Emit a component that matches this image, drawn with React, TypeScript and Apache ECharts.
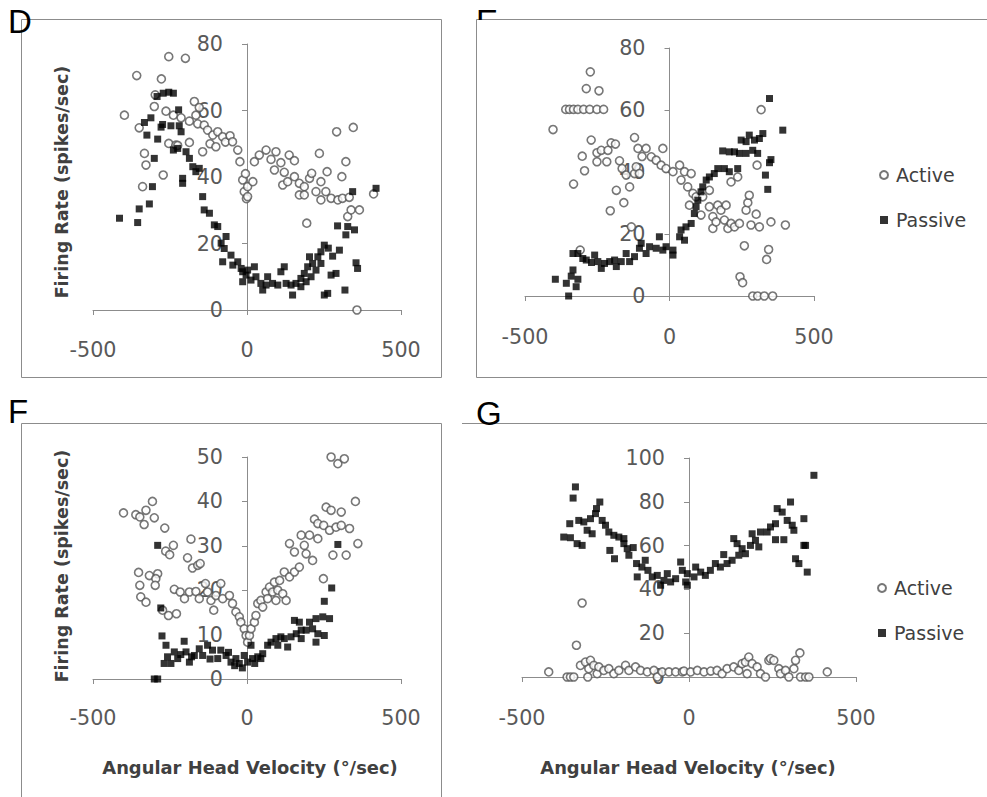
import React, { useEffect, useRef } from "react";
import * as echarts from "echarts";

// ---- Data (x = angular head velocity °/sec, y = firing rate spikes/sec) ----
const xTicks = [-500, 0, 500];

const dActive: number[][] = [
  [-398, 58.6], [-358, 70.5], [-350, 54.8], [-333, 47.1], [-328, 43.6], [-339, 37.1], [-301, 61.2], [-298, 64.7],
  [-278, 69.5], [-272, 40.6], [-263, 59.8], [-254, 76.2], [-254, 50.1], [-239, 58.6], [-231, 49.6], [-225, 49.5],
  [-214, 57.8], [-200, 75.7], [-187, 56.8], [-187, 50.4], [-171, 62.7], [-166, 58.6], [-160, 56], [-155, 60.9],
  [-144, 47.6], [-139, 55.6], [-128, 54.1], [-120, 50], [-111, 52.6], [-101, 49.1], [-95, 53.6], [-79, 52.1],
  [-70, 50.5], [-55, 52.4], [-47, 50.6], [-30, 48.1], [-23, 44.6], [-14, 39.1], [-9, 35.6], [-5, 41], [-2, 33.5],
  [2, 37.1], [2, 34.1], [19, 38.6], [24, 44.6], [40, 46.6], [62, 48.1], [78, 45.3], [89, 42.1], [94, 47.6],
  [110, 44.3], [116, 37.6], [121, 41.4], [132, 38.6], [137, 46.6], [154, 44.9], [154, 40.1], [170, 38.1],
  [170, 34.6], [186, 37.1], [186, 34.6], [194, 26.1], [203, 39.6], [210, 41.1], [224, 35.6], [235, 47.1],
  [240, 38.6], [240, 33.1], [256, 35.6], [260, 41.6], [273, 33.6], [291, 53.6], [295, 33.1], [308, 40.1],
  [310, 33.6], [321, 44.6], [327, 28.1], [332, 33.9], [338, 30.1], [345, 54.9], [357, 0], [365, 30.1], [411, 34.9],
];
const dPassive: number[][] = [
  [-414, 27.6], [-355, 26.3], [-350, 30.4], [-317, 31.9], [-307, 37.1], [-301, 45.6], [-333, 56.4], [-325, 52.6],
  [-312, 57.8], [-290, 51.4], [-292, 64.2], [-279, 55], [-272, 65.2], [-254, 65.5], [-239, 65.2], [-274, 55.8],
  [-247, 55.4], [-220, 55.4], [-214, 53.6], [-222, 60.2], [-239, 48.1], [-225, 48.6], [-198, 47.6], [-209, 39.6],
  [-209, 38.1], [-187, 45.6], [-176, 43.1], [-155, 42.6], [-166, 41.6], [-144, 34.1], [-139, 30.1], [-122, 29.1],
  [-106, 25.6], [-95, 25.1], [-84, 20.1], [-68, 22.1], [-74, 18.5], [-52, 16.5], [-79, 14.5], [-46, 13.5],
  [-30, 14.5], [-19, 12.5], [-14, 11.5], [-14, 8.5], [-3, 10.5], [2, 12], [13, 9], [24, 13], [29, 10], [45, 8],
  [51, 6], [62, 7.5], [67, 10], [83, 8], [100, 7.5], [110, 11.5], [121, 13], [127, 8], [143, 7.5], [148, 4.5],
  [159, 8], [175, 9.5], [175, 7], [186, 11], [192, 8.5], [197, 13], [203, 16], [208, 10], [213, 14], [224, 12],
  [230, 16], [240, 17.5], [240, 14], [251, 19.5], [251, 4.5], [262, 5], [264, 18.6], [273, 10.5], [278, 16.2],
  [289, 11], [294, 25.3], [300, 18], [318, 6], [321, 22.6], [327, 25.1], [343, 35.6], [349, 24.1], [354, 14.2],
  [359, 12.5], [419, 36.6],
];

const eActive: number[][] = [
  [-403, 53.7], [-359, 60.2], [-346, 60.2], [-332, 60.2], [-317, 60.2], [-297, 60.2], [-276, 60.2], [-251, 60.2],
  [-228, 60.2], [-274, 72.3], [-288, 66.9], [-244, 66.2], [-332, 36.1], [-309, 14.8], [-302, 45.1], [-294, 40.4],
  [-271, 50.3], [-251, 46.2], [-251, 43.3], [-236, 47], [-217, 43.3], [-213, 47], [-205, 27.5], [-202, 49.4],
  [-187, 49], [-184, 34.1], [-173, 43.6], [-164, 41.1], [-158, 30.1], [-150, 39], [-138, 35.2], [-132, 22.3],
  [-121, 51.1], [-121, 39.5], [-115, 41.7], [-109, 47.6], [-104, 39.5], [-95, 45], [-81, 47.6], [-63, 44.9],
  [-46, 43.8], [-29, 42.2], [-23, 47.6], [-12, 41.1], [12, 40.1], [35, 42.2], [40, 37.4], [52, 40.1], [63, 35.2],
  [69, 29.3], [75, 39.5], [81, 33.1], [92, 32], [109, 26.1], [115, 32], [138, 34.1], [138, 28.8], [150, 25.6],
  [150, 21.8], [161, 23.9], [167, 29.3], [178, 27.7], [190, 24.5], [196, 29.3], [202, 21.8], [213, 36.8],
  [213, 23.4], [225, 22.3], [236, 38.4], [242, 23.4], [244, 6.2], [253, 4.3], [259, 16.2], [265, 27.7],
  [271, 30.1], [276, 32.5], [282, 22.9], [288, 0], [300, 26.4], [303, 42.2], [305, 0], [311, 22.3], [317, 60.1],
  [328, 0], [336, 11.8], [343, 15], [351, 23.9], [357, 0], [401, 22.9],
];
const ePassive: number[][] = [
  [-395, 5.4], [-357, 4.1], [-349, 0], [-340, 6.4], [-334, 8.4], [-334, 13.7], [-323, 3], [-317, 5.4],
  [-317, 13.7], [-300, 12.1], [-288, 11.6], [-270, 10.8], [-259, 13.2], [-248, 11.1], [-236, 8.9], [-225, 10.5],
  [-207, 11.1], [-190, 11.6], [-184, 9.5], [-167, 11.1], [-150, 13.7], [-138, 11.1], [-121, 12.7], [-104, 15.4],
  [-98, 17], [-81, 13.7], [-69, 15.9], [-46, 15.4], [-35, 19.1], [-23, 14.8], [-12, 15.9], [12, 14.8], [12, 13.2],
  [35, 19.1], [40, 21.3], [52, 18], [57, 22.3], [75, 23.4], [86, 26.6], [92, 28.8], [98, 30.9], [109, 33.6],
  [115, 35.2], [127, 37.4], [138, 38.4], [155, 39.5], [167, 41.1], [184, 46.8], [190, 41.1], [207, 46.5],
  [207, 40.1], [225, 46.5], [236, 41.1], [242, 46], [248, 50.3], [265, 49.8], [265, 46], [276, 51.9], [288, 47],
  [294, 50.3], [305, 46], [311, 50.8], [323, 52.4], [332, 39], [340, 34.4], [346, 43], [346, 63.7], [351, 44],
  [392, 53.5],
];

const fActive: number[][] = [
  [-401, 37.4], [-361, 37], [-348, 36.5], [-334, 34.8], [-328, 38], [-307, 40], [-301, 36.3], [-267, 34],
  [-264, 28.8], [-251, 28], [-239, 30.1], [-193, 27.3], [-182, 31.5], [-177, 25], [-160, 25.6], [-152, 26],
  [-352, 24], [-348, 21.1], [-317, 23.3], [-290, 23.7], [-296, 22.6], [-298, 21.1], [-345, 18.5], [-328, 17.3],
  [-274, 15.5], [-255, 14.3], [-229, 14.7], [-236, 20.2], [-217, 19.6], [-203, 18.1], [-187, 19.6], [-166, 19.7],
  [-155, 18.1], [-135, 21.5], [-128, 19.6], [-117, 17.7], [-108, 15.5], [-101, 18.8], [-85, 21.5], [-79, 18.1],
  [-57, 18.8], [-47, 17], [-36, 15.1], [-25, 14], [-20, 12.8], [-9, 11.3], [-3, 9.8], [2, 8.3], [8, 9.8],
  [13, 11.3], [24, 12.8], [29, 14.3], [35, 17], [45, 17.7], [51, 16.2], [62, 19.6], [67, 18.1], [73, 20.7],
  [83, 19.6], [89, 21.8], [94, 17.7], [100, 20], [106, 22.2], [116, 19.2], [121, 24.1], [127, 17.7], [138, 23],
  [138, 30.5], [154, 24.1], [154, 28.6], [170, 25.2], [176, 32.4], [186, 30.1], [192, 28.2], [203, 32.4],
  [213, 26.7], [219, 36], [230, 35], [230, 31.6], [248, 22.6], [249, 34.6], [257, 38.7], [268, 33.5], [273, 38],
  [273, 50], [279, 27.9], [289, 34.2], [295, 48.5], [306, 37.6], [306, 34.6], [316, 49.6], [322, 27.9],
  [333, 33.9], [352, 40], [360, 30.5],
];
const fPassive: number[][] = [
  [-301, 0], [-290, 0], [-290, 30.1], [-280, 16], [-276, 9.7], [-269, 3.5], [-263, 7.6], [-258, 5], [-247, 3.5],
  [-236, 6.1], [-225, 4.6], [-215, 5.5], [-204, 8.5], [-198, 6.1], [-187, 3.8], [-180, 5], [-171, 5.3],
  [-155, 6.8], [-144, 5.3], [-128, 7.6], [-120, 4.5], [-112, 6.5], [-95, 4.6], [-85, 6.5], [-68, 5.3], [-60, 6],
  [-52, 3.8], [-40, 3], [-36, 4.6], [-25, 3.5], [-15, 2.5], [-9, 5.3], [2, 3.8], [13, 7.6], [18, 4.6], [25, 3.5],
  [35, 5], [45, 4.6], [51, 5.7], [67, 7.6], [78, 8.3], [94, 9.1], [100, 7.6], [110, 9.5], [121, 9.1], [132, 7.2],
  [143, 9.5], [154, 13.2], [160, 10.2], [170, 12.8], [176, 11], [176, 9.1], [192, 11], [203, 12.8], [213, 11.3],
  [224, 13.6], [224, 8.3], [230, 10.2], [246, 14], [251, 9.8], [251, 17.5], [268, 13.6], [275, 20.5], [295, 30.3],
];

const gActive: number[][] = [
  [-420, 2.3], [-365, 0], [-355, 0], [-345, 0], [-337, 14.5], [-325, 5.3], [-320, 33.8], [-310, 6.8], [-303, 0],
  [-300, 3.8], [-295, 7.6], [-285, 5.3], [-275, 1.5], [-270, 4.6], [-255, 3], [-240, 3.8], [-225, 1.5], [-210, 3],
  [-190, 5.3], [-180, 3], [-160, 4.6], [-145, 3], [-125, 2.3], [-105, 3], [-95, 0], [-80, 2.3], [-60, 2.3],
  [-40, 2.3], [-20, 2.3], [-15, 2.7], [5, 2.3], [25, 3], [45, 2.3], [65, 2.7], [84, 3], [99, 1.5], [114, 3.8],
  [134, 4.6], [149, 3], [159, 6.1], [169, 6.8], [174, 1.5], [179, 9.1], [189, 6.1], [204, 4.6], [214, 1.5],
  [229, 0], [239, 7.6], [244, 8.4], [254, 7.6], [269, 3.8], [274, 1.5], [289, 3], [299, 0], [314, 3.8],
  [319, 7.6], [332, 11], [334, 0], [349, 0], [359, 0], [414, 2.3],
];
const gPassive: number[][] = [
  [-375, 63.9], [-357, 70], [-355, 63.6], [-347, 81.7], [-340, 86.8], [-335, 60.9], [-330, 71.5], [-320, 60.1],
  [-315, 70.8], [-305, 67], [-295, 72.3], [-290, 65.4], [-280, 74.6], [-277, 76.9], [-267, 79.9], [-260, 71.5],
  [-250, 69.3], [-240, 66.2], [-237, 57.8], [-225, 64.7], [-223, 54], [-210, 63.9], [-195, 63.2], [-195, 60.9],
  [-185, 58.6], [-180, 55.6], [-167, 59.1], [-157, 51.8], [-155, 45.7], [-141, 50.2], [-131, 53.3], [-123, 48.7],
  [-110, 45.7], [-95, 46.4], [-85, 41.9], [-75, 44.1], [-65, 47.2], [-55, 43.4], [-40, 44.9], [-25, 52.5],
  [-20, 48.7], [-10, 43.4], [-5, 47.2], [-5, 41.9], [15, 45.7], [20, 50.2], [35, 47.9], [49, 46.4], [64, 48.7],
  [79, 51.8], [94, 50.2], [104, 55.9], [114, 51.8], [129, 53.3], [134, 63.2], [144, 60.9], [149, 55.6],
  [159, 58.6], [169, 56.3], [184, 60.1], [189, 65.4], [199, 62.4], [209, 59.4], [214, 66.2], [234, 66.2],
  [244, 68.5], [259, 70], [259, 62.7], [264, 76.9], [279, 75.3], [284, 62.7], [294, 71.5], [304, 79.9],
  [309, 69.3], [314, 67], [319, 54], [329, 51.8], [344, 72.3], [344, 60.1], [349, 60.1], [354, 47.9], [374, 92.1],
];

const panelLetters = ["D", "E", "F", "G"];
const yMax = [80, 80, 50, 100];
const yStep = [20, 20, 10, 20];
const seriesNames = ["Active", "Passive"];
const yTitle = "Firing Rate (spikes/sec)";
const xTitle = "Angular Head Velocity (°/sec)";

const FONT = '"DejaVu Sans", Verdana, sans-serif';
const AXIS = "#8c8c8c";
const LABEL = "#595959";
const TITLE = "#404040";

export default function App() {
  const ref = useRef<HTMLDivElement>(null);
  useEffect(() => {
    if (!ref.current) return;
    const chart = echarts.init(ref.current, undefined, { renderer: "svg" });
    const grids = [
      { left: 93, top: 44, width: 308, height: 266 },
      { left: 525, top: 48, width: 289, height: 248 },
      { left: 93, top: 457, width: 308, height: 222 },
      { left: 522, top: 458, width: 334, height: 219 },
    ];
    const xMargins = [29, 30, 28, 30];
    const data = [
      [dActive, dPassive],
      [eActive, ePassive],
      [fActive, fPassive],
      [gActive, gPassive],
    ];
    const series: any[] = [];
    data.forEach((pair, i) => {
      series.push({
        name: seriesNames[0],
        type: "scatter",
        xAxisIndex: i,
        yAxisIndex: i,
        data: pair[0],
        symbol: "circle",
        symbolSize: 8,
        itemStyle: { color: "#ffffff", borderColor: "#555555", borderWidth: 1.6 },
        z: 3,
      });
      series.push({
        name: seriesNames[1],
        type: "scatter",
        xAxisIndex: i,
        yAxisIndex: i,
        data: pair[1],
        symbol: "rect",
        symbolSize: 7,
        itemStyle: { color: "#000000" },
        z: 4,
      });
    });
    const legendCommon = {
      data: seriesNames,
      orient: "vertical",
      itemWidth: 8,
      itemHeight: 8,
      itemGap: 25,
      selectedMode: false,
      textStyle: { fontSize: 19, color: TITLE, fontFamily: FONT, lineHeight: 20, padding: [0, 0, 0, 3] },
    };
    const option: any = {
      animation: false,
      backgroundColor: "#ffffff",
      grid: grids.map((g) => ({ ...g, containLabel: false })),
      xAxis: grids.map((_, i) => ({
        type: "value",
        gridIndex: i,
        min: xTicks[0],
        max: xTicks[xTicks.length - 1],
        interval: 500,
        axisLine: { show: true, onZero: true, lineStyle: { color: AXIS, width: 1 } },
        axisTick: { show: true, inside: false, length: 5, lineStyle: { color: AXIS } },
        axisLabel: { color: LABEL, fontSize: 20.7, fontFamily: FONT, margin: xMargins[i] },
        splitLine: { show: false },
      })),
      yAxis: grids.map((g, i) => ({
        type: "value",
        gridIndex: i,
        position: "left",
        offset: -(g.width / 2),
        min: 0,
        max: yMax[i],
        interval: yStep[i],
        axisLine: { show: true, onZero: false, lineStyle: { color: AXIS, width: 1 } },
        axisTick: { show: true, inside: false, length: 5, lineStyle: { color: AXIS } },
        axisLabel: { color: LABEL, fontSize: 20.7, fontFamily: FONT, margin: 24 },
        splitLine: { show: false },
      })),
      legend: [
        { ...legendCommon, left: 874, top: 160 },
        { ...legendCommon, left: 872, top: 573 },
      ],
      series,
      graphic: [
        // frames
        { type: "rect", shape: { x: 21.5, y: 19.5, width: 420, height: 358 }, style: { fill: "none", stroke: AXIS, lineWidth: 1 } },
        { type: "rect", shape: { x: 476.5, y: 19.5, width: 530, height: 358 }, style: { fill: "none", stroke: AXIS, lineWidth: 1 } },
        { type: "rect", shape: { x: 21.5, y: 423.5, width: 420, height: 420 }, style: { fill: "none", stroke: AXIS, lineWidth: 1 } },
        { type: "line", shape: { x1: 462, y1: 423.5, x2: 990, y2: 423.5 }, style: { stroke: AXIS, lineWidth: 1 } },
        // panel letters
        { type: "text", x: 8, y: 21, z: 10, style: { text: panelLetters[0], font: '33px "Liberation Sans", Arial, sans-serif', fill: "#000", textVerticalAlign: "middle" } },
        { type: "text", x: 476, y: 21, z: 10, style: { text: panelLetters[1], font: '33px "Liberation Sans", Arial, sans-serif', fill: "#000", textVerticalAlign: "middle" } },
        { type: "rect", z: 11, shape: { x: 477.5, y: 20, width: 40, height: 25 }, style: { fill: "#ffffff" } },
        { type: "text", x: 8, y: 411, z: 10, style: { text: panelLetters[2], font: '33px "Liberation Sans", Arial, sans-serif', fill: "#000", textVerticalAlign: "middle" } },
        { type: "text", x: 476, y: 413, z: 10, style: { text: panelLetters[3], font: '33px "Liberation Sans", Arial, sans-serif', fill: "#000", textVerticalAlign: "middle" } },
        // axis titles
        { type: "text", x: 62, y: 182, rotation: Math.PI / 2, style: { text: yTitle, font: `bold 17.5px ${FONT}`, fill: TITLE, textAlign: "center", textVerticalAlign: "middle" } },
        { type: "text", x: 62, y: 566, rotation: Math.PI / 2, style: { text: yTitle, font: `bold 17.5px ${FONT}`, fill: TITLE, textAlign: "center", textVerticalAlign: "middle" } },
        { type: "text", x: 250, y: 767, style: { text: xTitle, font: `bold 17.9px ${FONT}`, fill: TITLE, textAlign: "center", textVerticalAlign: "middle" } },
        { type: "text", x: 688, y: 767, style: { text: xTitle, font: `bold 17.9px ${FONT}`, fill: TITLE, textAlign: "center", textVerticalAlign: "middle" } },
      ],
    };
    chart.setOption(option);
    return () => chart.dispose();
  }, []);
  return (
    <div
      ref={ref}
      style={{ position: "fixed", left: 0, top: 0, width: 987, height: 797, background: "#fff" }}
    />
  );
}
